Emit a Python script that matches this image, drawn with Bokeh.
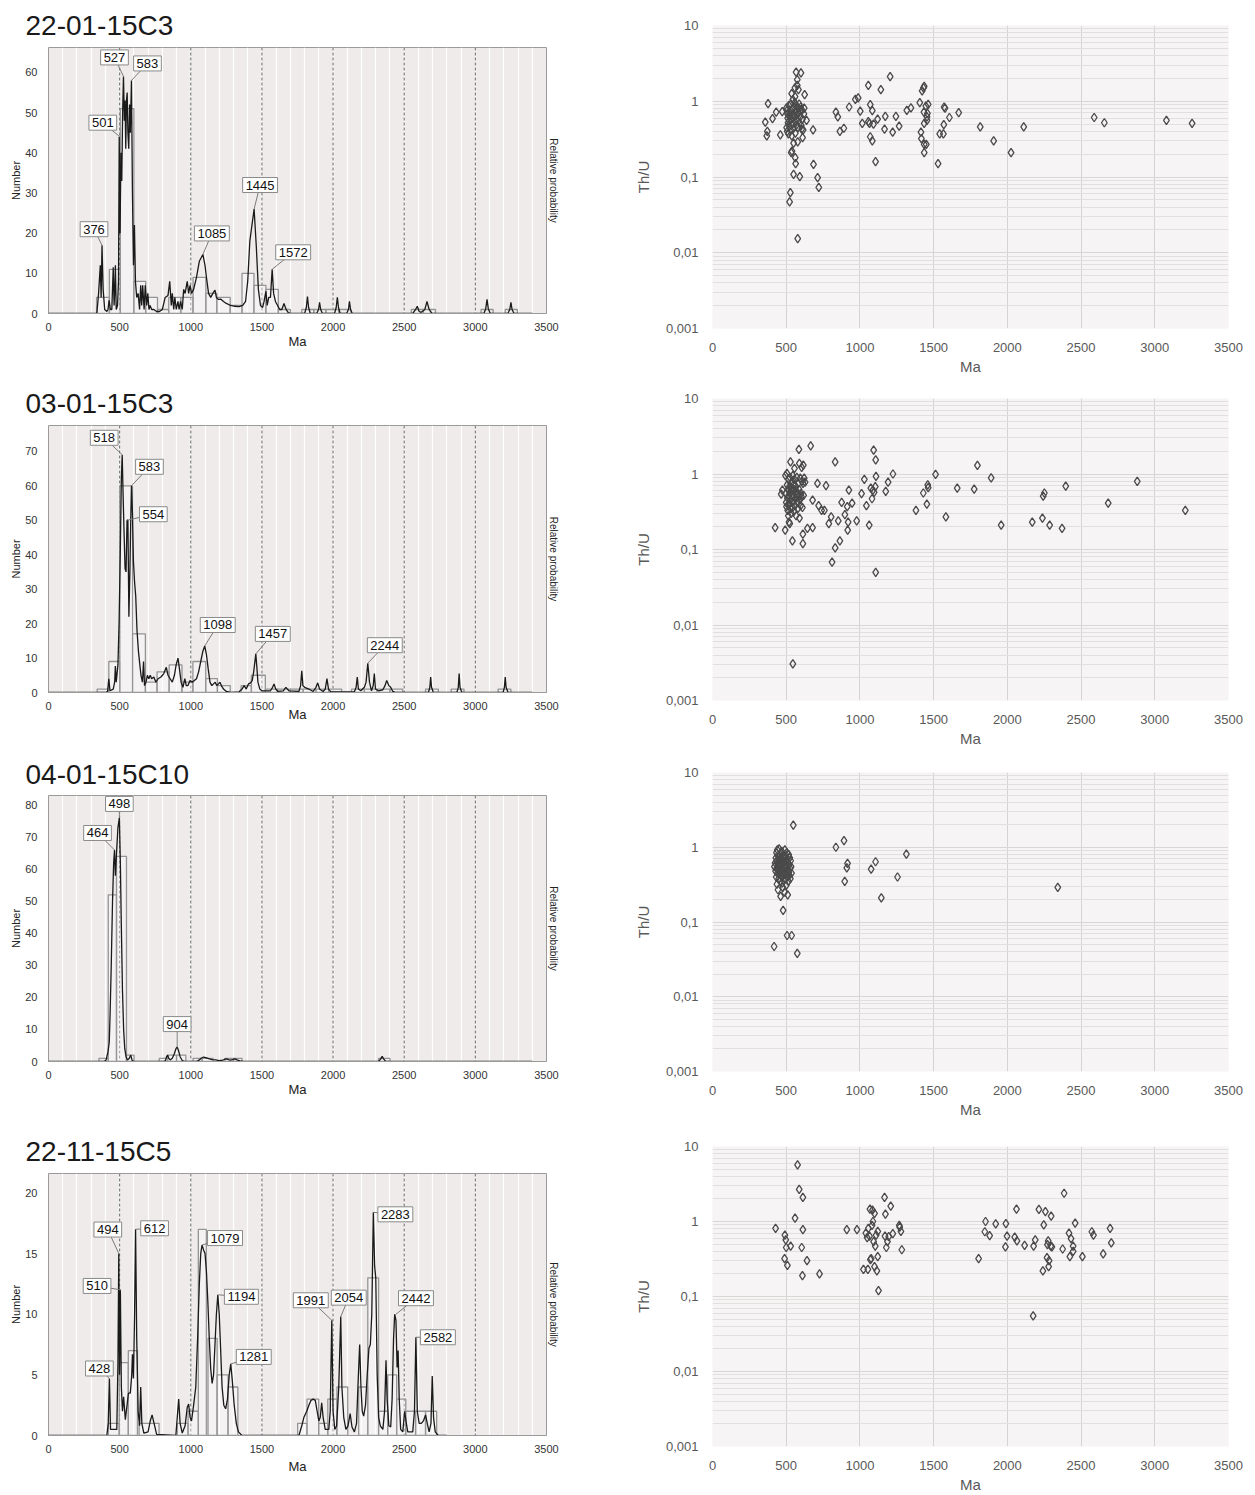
from bokeh.plotting import figure
from bokeh.models import (Range1d, FixedTicker, LinearAxis, Span, Label,
                          CustomJSTickFormatter)
from bokeh.layouts import row, column
from bokeh.embed import file_html
from bokeh.resources import INLINE

FONT = "Liberation Sans"

# ------------------------------------------------------------------ DATA
sample_names = ["22-01-15C3", "03-01-15C3", "04-01-15C10", "22-11-15C5"]

# probability-density curves, (age Ma, value on Number scale)
s1_curve = [(0,0),(340,0),(352,5),(364,12),(370,4),(376,17),(384,6),(395,1),(410,0.5),(418,1),(426,3.3),(435,1),(445,1),
            (455,11.5),(461,2),(466,6),(470,12),(476,1),(485,2),(492,8),(497,44),(503,20),(509,40),(515,33),(521,50),
            (527,59),(533,48),(538,53),(543,41),(548,53),(553,55),(558,45),(564,41),(570,52),(575,45),(583,58),(590,30),
            (597,12),(604,22),(611,8),(620,4),(630,5),(640,1),(648,7),(655,2),(662,7),(672,1),(680,7),(690,2),(698,5),
            (706,1),(714,2),(725,1),(740,1),(760,0.5),(780,0.5),(800,1),(820,4),(840,4.5),(852,8),(863,2),(870,5),(880,1),
            (888,4),(898,1),(910,3),(918,1),(928,3),(940,1),(950,6),(960,5),(975,8),(985,5),(995,7),(1005,5),(1020,6),
            (1040,9),(1060,13),(1085,14.7),(1100,12),(1110,9),(1125,5),(1140,4),(1155,5),(1170,5.8),(1180,4),(1195,3.5),
            (1210,3.6),(1230,3),(1250,2.5),(1280,2),(1310,1.8),(1340,1.7),(1365,2),(1385,3),(1400,8),(1415,18),(1445,26),
            (1460,17),(1475,6),(1490,2),(1505,1.5),(1515,3),(1528,5.5),(1537,2),(1548,4),(1560,4),(1572,11),(1582,5),
            (1595,3),(1610,2),(1625,1),(1640,1),(1655,2.5),(1670,1),(1685,0.2),(1700,0),(1800,0),(1812,1.5),(1820,4.2),
            (1828,1.5),(1840,0),(1885,0),(1898,1),(1905,2.8),(1913,1),(1925,0),(2010,0),(2022,1.5),(2030,4),(2038,1.5),
            (2050,0),(2095,0),(2108,1),(2115,3),(2123,1),(2135,0),(2560,0),(2580,1),(2592,1.8),(2605,0.5),(2620,0.3),
            (2645,1),(2660,3),(2675,1),(2695,0),(3060,0),(3073,1.2),(3082,3.5),(3091,1.2),(3105,0),(3228,0),(3242,1),
            (3250,2.8),(3258,1),(3272,0),(3400,0)]
s2_curve = [(0,0),(400,0),(415,0.3),(424,4),(432,0.5),(455,1),(465,3),(470,7.7),(476,3),(488,8),(496,20),(505,42),
            (512,62),(518,69),(524,58),(530,48),(538,36),(545,35),(552,50),(558,50),(565,22),(572,35),(578,50),(583,60),
            (590,52),(597,38),(605,32),(613,28),(622,18),(632,12),(642,8),(650,5),(660,3),(668,9),(675,2),(685,3),
            (695,5),(705,4),(715,5),(725,4),(740,4.5),(755,3),(770,4),(790,4.5),(810,5.5),(828,7.3),(840,5),(855,4),
            (870,3),(885,5),(897,8),(910,10),(920,7),(932,3),(945,1.5),(958,4),(968,2),(980,2),(995,3.5),(1010,3),
            (1025,3.5),(1040,4),(1055,6),(1070,9),(1085,12),(1098,13.5),(1110,11),(1122,7),(1135,3),(1148,2),(1160,2.5),
            (1172,3),(1182,2),(1195,2.5),(1205,3),(1215,2),(1230,1),(1250,0.3),(1280,0),(1340,0.2),(1360,1),(1375,2),
            (1390,1),(1405,2.5),(1420,2.8),(1432,3.5),(1442,6),(1457,11.2),(1465,7),(1472,3),(1485,1),(1500,0.5),
            (1560,0.5),(1575,1.5),(1585,2.5),(1597,1),(1612,0.3),(1650,0.5),(1668,1.5),(1690,0.5),(1760,0.3),(1772,2),
            (1780,6.3),(1788,2),(1800,1.5),(1830,1),(1860,0.3),(1880,1.5),(1892,2.8),(1905,1),(1930,0.3),(1945,1),
            (1957,4),(1968,1),(1985,0.2),(2150,0.2),(2162,1.5),(2170,4.5),(2178,1),(2195,0.5),(2220,1.5),(2232,3),
            (2244,8.5),(2256,3),(2270,0.5),(2282,2),(2290,5.5),(2298,1),(2320,0.5),(2350,0.8),(2365,2),(2377,3.5),
            (2392,2),(2405,1.5),(2420,0.3),(2440,0),(2670,0),(2680,1.5),(2686,4.5),(2692,1.5),(2705,0),(2870,0),
            (2880,1.5),(2886,5.5),(2892,1.5),(2905,0),(3195,0),(3204,1.5),(3210,4.5),(3216,1.5),(3230,0),(3400,0)]
s3_curve = [(0,0),(390,0),(405,0.5),(418,3),(427,6),(433,15),(440,28),(450,50),(458,62),(464,66),(470,58),(478,65),
            (488,73),(498,76),(505,62),(512,42),(520,22),(528,10),(536,4),(545,1.5),(555,0.5),(568,1),(578,2),(588,0.3),
            (600,0),(810,0),(822,0.3),(830,1.5),(837,2),(845,1),(855,0.5),(870,1),(885,2.5),(896,4),(904,4.5),(913,3.5),
            (925,1.5),(940,0.3),(960,0),(1040,0),(1060,0.5),(1075,1.1),(1090,1.4),(1105,1.2),(1125,0.9),(1150,0.6),
            (1175,0.5),(1200,0.3),(1225,0.4),(1245,0.8),(1260,0.7),(1275,0.4),(1295,0.6),(1310,0.8),(1325,0.5),
            (1345,0.2),(1370,0),(2320,0),(2335,0.8),(2345,1.6),(2355,0.8),(2370,0),(3400,0)]
s4_curve = [(0,0),(410,0),(420,1),(428,4.7),(436,0.5),(480,0.5),(488,6),(494,15),(499,5),(505,12),(512,4),(520,2),
            (528,3.2),(540,1.3),(552,2.5),(562,3.5),(575,3.5),(585,5),(590,6.7),(597,4.7),(605,10),(612,17),(620,8),
            (630,2),(640,0.8),(648,4),(656,1),(670,0.2),(700,0.3),(715,1.2),(728,1.7),(742,1),(760,0.1),(895,0),
            (905,1.5),(915,3),(925,1),(940,0.2),(960,0.8),(975,2.3),(985,2.6),(995,1.5),(1005,1.2),(1020,2.5),(1035,4),
            (1048,8),(1060,12.5),(1070,15),(1079,15.7),(1090,15.3),(1100,15),(1110,13.5),(1120,11),(1130,8),(1140,5.5),
            (1150,4.3),(1160,5),(1170,7.5),(1180,10),(1190,11.6),(1200,10),(1210,7),(1220,4),(1232,2.5),(1245,2.2),
            (1258,3),(1270,5),(1281,5.9),(1292,4.5),(1305,2.5),(1320,1),(1335,0.3),(1360,0),(1760,0),(1780,0.8),
            (1795,1.5),(1815,2),(1830,2.5),(1845,2.9),(1860,3),(1875,2.9),(1888,2),(1900,1.2),(1910,1.5),(1920,2.7),
            (1930,1.5),(1945,0.5),(1970,0.5),(1980,2),(1991,9.5),(2000,2),(2012,0.5),(2025,0.8),(2040,4),(2054,9.8),
            (2062,4),(2075,1.5),(2090,0.5),(2105,0.8),(2120,1.8),(2133,0.7),(2150,0.3),(2165,1),(2178,5),(2187,7.5),
            (2196,4),(2205,2),(2215,1.6),(2228,2.5),(2240,5),(2252,7.2),(2262,7.5),(2272,10),(2283,18.4),(2292,14),
            (2300,13),(2310,5),(2320,1.5),(2332,0.8),(2350,0.5),(2362,2),(2372,6.2),(2380,3),(2392,0.8),(2405,0.7),
            (2415,3),(2425,8),(2433,10),(2442,9.5),(2450,5.6),(2457,7),(2465,3),(2475,0.5),(2490,0.3),(2503,2),
            (2515,1),(2525,0.3),(2560,0.3),(2572,2),(2582,8.1),(2592,2),(2605,1),(2620,1),(2635,1.2),(2650,1.7),
            (2662,1),(2675,0.3),(2688,1),(2697,4.9),(2706,1.5),(2718,0.3),(2740,0),(2800,0)]

# histogram bins: (left Ma, right Ma, count)
s1_hist = [(338,428,4),(428,505,11),(505,600,51),(600,683,8),(683,766,4),(766,845,1),(845,930,4),(930,1016,4),
           (1016,1106,9),(1106,1183,5),(1183,1277,4),(1277,1360,2),(1360,1444,10),(1444,1528,7),(1528,1615,6),
           (1615,1700,1),(1780,1865,1),(1865,1950,1),(1950,2040,1),(2040,2125,1),(2550,2635,1),(2635,2720,1),
           (3040,3125,1),(3210,3295,1)]
s2_hist = [(342,424,1),(424,501,9),(501,591,60),(591,681,17),(681,763,3),(763,848,6),(848,938,8),(938,1015,3),
           (1015,1105,9),(1105,1187,4),(1187,1277,2),(1354,1426,2),(1426,1524,5),(1524,1610,1),(1610,1700,1),
           (1700,1790,1),(1790,1880,1),(1880,1970,1),(1970,2060,1),(2130,2220,1),(2220,2310,1),(2310,2400,1),
           (2400,2490,1),(2650,2740,1),(2830,2920,1),(3160,3250,1)]
s3_hist = [(355,420,1),(420,478,52),(478,548,64),(548,601,2),(778,837,1),(837,900,2),(900,965,2),(1016,1080,1),
           (1080,1157,1),(1240,1300,1),(1300,1360,1),(2320,2400,1)]
s4_hist = [(421,497,1),(497,561,6),(561,625,7),(637,777,1),(905,981,1),(981,1053,2),(1053,1109,17),(1121,1185,8),
           (1185,1262,5),(1262,1331,4),(1751,1817,1),(1817,1899,3),(1899,1963,1),(1963,2027,3),(2027,2103,4),
           (2180,2244,4),(2244,2320,13),(2320,2384,2),(2384,2447,5),(2447,2511,3),(2511,2580,2),(2580,2650,2),
           (2650,2728,2)]

# labelled peaks: age (Ma) and curve height
s1_peak_age = [376, 501, 527, 583, 1085, 1445, 1572]
s1_peak_height = [17, 44, 59, 58, 14.7, 26, 11]
s2_peak_age = [518, 583, 554, 1098, 1457, 2244]
s2_peak_height = [69, 60, 50, 13.5, 11.2, 8.5]
s3_peak_age = [464, 498, 904]
s3_peak_height = [66, 76, 4.5]
s4_peak_age = [428, 494, 510, 612, 1079, 1194, 1281, 1991, 2054, 2283, 2442, 2582]
s4_peak_height = [4.7, 15, 12, 17, 15.7, 11.6, 5.9, 9.5, 9.8, 18.4, 10, 8.1]

# Th/U versus age (Ma)
s1_zircons = [(358,0.53),(377,0.93),(372,0.40),(368,0.35),(407,0.59),(432,0.72),(460,0.36),(473,0.73),
    (567,2.43),(600,2.37),(575,1.93),(575,1.62),(583,1.42),(559,1.50),(537,1.26),(625,1.22),(528,0.062),(523,0.047),
    (550,0.108),(592,0.101),(578,0.0154),(561,0.18),(564,0.15),(539,0.22),(534,0.21),(550,0.28),(578,0.29),(611,0.33),
    (605,0.43),(638,0.56),(682,0.42),(685,0.147),(713,0.098),(721,0.073),(622,0.81),(603,0.78),
    (502,0.82),(505,0.75),(508,0.68),(510,0.60),(512,0.52),(503,0.45),(507,0.40),(515,0.37),(518,0.88),(520,0.55),
    (522,0.47),(525,0.72),(528,0.64),(530,0.42),(532,0.92),(535,0.58),(538,0.35),(540,0.78),(542,0.50),(545,1.05),
    (548,0.68),(550,0.44),(552,0.85),(555,0.62),(558,0.96),(560,0.54),(562,0.38),(565,0.74),(568,0.48),(570,0.88),
    (572,0.66),(575,0.57),(578,0.80),(580,0.45),(585,0.70),(588,0.92),(590,0.52),(595,0.62),(598,0.84),(602,0.48),
    (606,0.75),(610,0.58),(615,0.42),(620,0.68),(560,1.15),
    (837,0.72),(850,0.62),(864,0.40),(891,0.44),(927,0.84),(969,1.06),(988,1.11),(1002,0.74),(1016,0.51),
    (1057,1.62),(1057,0.54),(1065,0.51),(1070,0.90),(1070,0.34),(1084,0.75),(1084,0.30),(1092,0.50),(1106,0.16),
    (1120,0.58),(1142,1.42),(1167,0.43),(1172,0.63),(1205,2.12),(1222,0.39),(1244,0.63),(1266,0.47),(1318,0.76),
    (1346,0.82),(1406,0.96),(1414,0.39),(1417,0.32),(1422,1.37),(1431,1.50),(1436,1.57),(1434,0.72),(1436,0.51),
    (1436,0.27),(1436,0.21),(1447,0.86),(1455,0.62),(1455,0.56),(1458,0.69),(1463,0.91),(1450,0.27),(1530,0.15),
    (1541,0.37),(1566,0.37),(1569,0.49),(1571,0.84),(1577,0.81),(1607,0.61),(1670,0.71),(1816,0.46),(1907,0.30),
    (2025,0.21),(2111,0.46),(2589,0.61),(2658,0.52),(3079,0.56),(3253,0.51)]
s2_zircons = [(425,0.195),(474,0.61),(466,0.54),(493,0.18),(542,0.13),(545,0.00305),(529,1.45),(556,1.19),
    (586,2.12),(589,1.38),(616,1.31),(605,1.22),(666,2.35),(613,0.16),(613,0.12),(644,0.19),(679,0.195),(679,0.45),
    (712,0.75),(720,0.38),(740,0.33),(759,0.33),(770,0.70),(789,0.22),(805,0.27),(811,0.068),(832,1.45),(832,0.105),
    (853,0.24),(864,0.13),(876,0.42),(898,0.29),(914,0.37),(917,0.18),(920,0.23),(925,0.61),(947,0.41),(978,0.24),
    (1011,0.55),(1030,0.85),(1044,0.38),(1063,0.21),(1074,0.65),(1082,0.47),(1093,2.07),(1088,0.61),(1096,0.57),
    (1104,0.68),(1107,1.54),(1109,0.93),(1107,0.0497),(1175,0.59),(1191,0.78),(1224,1.0),(1380,0.33),(1430,0.56),
    (1454,0.40),(1460,0.72),(1463,0.66),(1513,0.99),(1583,0.27),(1660,0.65),(1775,0.63),(1797,1.30),(1890,0.89),
    (1958,0.21),(2169,0.23),(2238,0.26),(2243,0.51),(2251,0.56),(2287,0.21),(2371,0.19),(2396,0.69),(2684,0.41),
    (2881,0.80),(3207,0.33),
    (495,0.95),(498,0.55),(500,0.42),(502,0.37),(505,1.02),(506,0.72),(508,0.48),(510,0.33),(512,0.62),(514,0.28),
    (515,0.85),(517,0.52),(519,0.23),(520,0.40),(522,0.68),(524,0.22),(525,0.90),(527,0.58),(529,0.35),(530,0.46),
    (532,0.75),(534,0.30),(535,0.65),(537,0.52),(539,0.42),(540,0.80),(542,0.60),(544,0.36),(545,0.95),(547,0.50),
    (549,0.72),(550,0.44),(552,0.32),(554,0.62),(556,0.85),(558,0.55),(560,0.38),(562,0.70),(565,0.48),(567,0.28),
    (570,0.60),(572,0.90),(575,0.42),(577,0.55),(580,0.35),(582,0.75),(585,0.50),(588,0.62),(590,0.26),(592,0.45),
    (595,0.88),(598,0.38),(600,0.55),(603,0.50),(606,0.80),(610,0.36),(614,0.75),(618,0.52),(622,0.88),(628,0.78)]
s3_zircons = [(418,0.047),(479,0.143),(506,0.066),(537,0.066),(575,0.038),(548,1.98),(837,1.0),(892,1.23),
    (916,0.61),(911,0.53),(897,0.35),(1076,0.51),(1106,0.64),(1145,0.21),(1255,0.40),(1315,0.81),(2342,0.29),
    (420,0.55),(425,0.62),(428,0.48),(430,0.72),(432,0.40),(434,0.85),(435,0.52),(437,0.32),(438,0.66),(440,0.92),
    (441,0.45),(443,0.58),(444,0.27),(446,0.75),(447,0.50),(449,0.38),(450,0.62),(452,0.95),(453,0.44),(455,0.68),
    (456,0.55),(458,0.35),(459,0.80),(461,0.48),(462,0.22),(464,0.60),(465,0.72),(467,0.41),(468,0.52),(470,0.88),
    (471,0.33),(473,0.65),(474,0.46),(476,0.58),(477,0.29),(479,0.78),(480,0.50),(482,0.42),(483,0.62),(485,0.36),
    (486,0.70),(488,0.54),(489,0.25),(491,0.92),(492,0.45),(494,0.60),(495,0.38),(497,0.76),(498,0.52),(500,0.31),
    (501,0.66),(503,0.44),(504,0.85),(506,0.56),(507,0.40),(509,0.70),(510,0.23),(512,0.50),(513,0.62),(515,0.35),
    (517,0.80),(518,0.46),(520,0.58),(522,0.42),(524,0.72),(526,0.52),(528,0.38),(530,0.66),(533,0.55),(536,0.45)]
s4_zircons = [(428,0.81),(491,0.66),(497,0.57),(500,0.45),(530,0.47),(489,0.32),(508,0.26),(577,5.68),(588,2.68),
    (613,2.1),(560,1.11),(613,0.78),(605,0.45),(610,0.19),(641,0.30),(726,0.20),(911,0.78),(980,0.78),(1024,0.23),
    (1054,0.23),(1040,0.70),(1049,0.61),(1057,0.81),(1068,1.46),(1085,1.42),(1099,1.28),(1082,0.89),(1088,1.0),
    (1065,0.64),(1076,0.32),(1071,0.31),(1093,0.54),(1104,0.47),(1110,0.66),(1121,0.74),(1099,0.25),(1115,0.22),
    (1121,0.34),(1126,0.12),(1167,2.1),(1173,1.25),(1209,1.6),(1170,0.64),(1179,0.45),(1187,0.54),(1195,0.63),
    (1223,0.69),(1267,0.89),(1270,0.84),(1278,0.74),(1284,0.42),(1805,0.32),(1852,1.0),(1847,0.73),(1880,0.65),
    (1921,0.93),(1990,0.94),(1998,0.64),(1987,0.46),(2050,0.62),(2062,1.46),(2065,0.55),(2117,0.48),(2178,0.47),
    (2189,0.57),(2175,0.0553),(2214,1.45),(2241,0.22),(2247,0.90),(2258,1.35),(2269,0.33),(2277,0.55),(2272,0.49),
    (2280,0.25),(2283,0.30),(2297,1.18),(2294,0.47),(2302,0.46),(2385,2.38),(2375,0.43),(2418,0.70),(2432,0.59),
    (2424,0.34),(2446,0.47),(2446,0.40),(2460,0.95),(2509,0.34),(2573,0.73),(2584,0.66),(2650,0.37),(2697,0.81),
    (2705,0.52)]

number_ticks = [[0, 10, 20, 30, 40, 50, 60], [0, 10, 20, 30, 40, 50, 60, 70],
                [0, 10, 20, 30, 40, 50, 60, 70, 80], [0, 5, 10, 15, 20]]
number_max = [66.2, 77.5, 83.0, 21.6]
age_ticks = [0, 500, 1000, 1500, 2000, 2500, 3000, 3500]
thu_ticks = [0.001, 0.01, 0.1, 1, 10]

# ------------------------------------------------------------------ LAYOUT / STYLE
# per row: height, left top/bottom border, right top/bottom border, "Ma" standoff
row_style = [
    dict(h=378, lt=47, lb=65, rt=25, rb=50, ma=0),
    dict(h=372, lt=47, lb=58, rt=20, rb=50, ma=-6),
    dict(h=370, lt=45, lb=59, rt=22, rb=45, ma=0),
    dict(h=375, lt=53, lb=60, rt=26, rb=46, ma=3),
]
title_standoff = [14, 14, 12, 14]
# label box offsets (pixels) from the peak point
label_offsets = [
    [(-8, 16), (-17, 14), (-9, 19), (16, 17), (9, 21), (6, 24), (21, 17)],
    [(-18, 17), (18, 19), (26, 6), (13, 21), (17, 20), (17, 18)],
    [(-17, 17), (0, 14), (0, 23)],
    [(-10, 10), (-11, 24), (-24, 4), (19, 1), (23, 7), (23, -2), (23, 7), (-21, 20), (8, 19), (22, -2), (20, 16), (22, 0)],
]

LW, LBL, LBR = 600, 48, 54
RW, RBL, RBR = 655, 112, 27


def make_left(i, curve, hist, peak_age, peak_h):
    st = row_style[i]
    ymax = number_max[i]
    p = figure(width=LW, height=st["h"], x_range=Range1d(0, 3500), y_range=Range1d(0, ymax),
               output_backend="svg", toolbar_location=None, title=sample_names[i],
               min_border_left=LBL, min_border_right=LBR, min_border_top=st["lt"], min_border_bottom=st["lb"])
    p.title.text_font = FONT
    p.title.text_font_size = "28px"
    p.title.text_font_style = "normal"
    p.title.text_color = "#1a1a1a"
    p.title.offset = -23
    p.title.standoff = title_standoff[i]
    p.background_fill_color = "#efebeb"
    p.border_fill_color = "white"
    p.outline_line_color = "#9a9a9a"
    p.xgrid.ticker = FixedTicker(ticks=list(range(0, 3501, 100)))
    p.xgrid.grid_line_color = "white"
    p.xgrid.grid_line_width = 1.2
    p.ygrid.grid_line_color = None
    for loc in age_ticks[1:-1]:
        p.add_layout(Span(location=loc, dimension="height", line_color="#6a6a6a",
                          line_dash="3 2", line_width=1, level="underlay"))

    hl = [b[0] for b in hist]
    hr = [b[1] for b in hist]
    hc = [b[2] for b in hist]
    p.quad(left=hl, right=hr, bottom=0, top=hc, fill_color="white", fill_alpha=0.35,
           line_color="#959595", line_width=1.3)
    cx = [c[0] for c in curve]
    cy = [c[1] for c in curve]
    p.line(cx, cy, line_color="#1a1a1a", line_width=1.3)

    fw = LW - LBL - LBR
    fh = st["h"] - st["lt"] - st["lb"]
    offs = label_offsets[i]
    x1 = [a + o[0] * 3500 / fw for a, o in zip(peak_age, offs)]
    y1 = [h + o[1] * ymax / fh for h, o in zip(peak_h, offs)]
    p.segment(peak_age, peak_h, x1, y1, line_color="#7a7a7a", line_width=1)
    for a, h, o in zip(peak_age, peak_h, offs):
        p.add_layout(Label(x=a, y=h, x_offset=o[0], y_offset=o[1], text=str(a),
                           text_align="center", text_baseline="middle", text_font=FONT,
                           text_font_size="13px", text_color="#111111",
                           background_fill_color="white", border_line_color="#8a8a8a",
                           border_line_width=1, padding=3))

    xa = p.xaxis[0]
    xa.ticker = FixedTicker(ticks=age_ticks)
    xa.axis_label = "Ma"
    xa.axis_label_text_font = FONT
    xa.axis_label_text_font_size = "13px"
    xa.axis_label_text_font_style = "normal"
    xa.axis_label_text_color = "#222222"
    xa.axis_label_standoff = st["ma"]
    xa.major_label_text_font = FONT
    xa.major_label_text_font_size = "11px"
    xa.major_label_text_color = "#333333"
    xa.major_label_standoff = 3
    xa.axis_line_color = "#9a9a9a"
    xa.major_tick_line_color = None
    xa.minor_tick_line_color = None

    ya = p.yaxis[0]
    ya.ticker = FixedTicker(ticks=number_ticks[i])
    ya.axis_label = "Number"
    ya.axis_label_text_font = FONT
    ya.axis_label_text_font_size = "11px"
    ya.axis_label_text_font_style = "normal"
    ya.axis_label_text_color = "#222222"
    ya.axis_label_standoff = 0
    ya.major_label_text_font = FONT
    ya.major_label_text_font_size = "11px"
    ya.major_label_text_color = "#333333"
    ya.major_label_standoff = 5
    ya.axis_line_color = None
    ya.major_tick_line_color = None
    ya.minor_tick_line_color = None

    ra = LinearAxis(ticker=FixedTicker(ticks=[]), axis_label="Relative probability",
                    axis_line_color=None, major_tick_line_color=None, minor_tick_line_color=None,
                    axis_label_standoff=1, axis_label_text_font=FONT, axis_label_text_font_size="10px",
                    axis_label_text_font_style="normal", axis_label_text_color="#222222")
    p.add_layout(ra, "right")
    return p


def make_right(i, zircons):
    st = row_style[i]
    p = figure(width=RW, height=st["h"], x_range=Range1d(0, 3500), y_range=Range1d(0.001, 10),
               y_axis_type="log", output_backend="svg", toolbar_location=None,
               min_border_left=RBL, min_border_right=RBR, min_border_top=st["rt"], min_border_bottom=st["rb"])
    p.background_fill_color = "#f6f4f4"
    p.border_fill_color = "white"
    p.outline_line_color = None
    xt = FixedTicker(ticks=age_ticks)
    minor = [m * d for d in thu_ticks[:-1] for m in range(2, 10)]
    yt = FixedTicker(ticks=thu_ticks, minor_ticks=minor)
    p.xaxis.ticker = xt
    p.xgrid.ticker = xt
    p.yaxis.ticker = yt
    p.ygrid.ticker = yt
    p.xgrid.grid_line_color = "#d6d3d3"
    p.ygrid.grid_line_color = "#d9d6d6"
    p.ygrid.minor_grid_line_color = "#e2dfdf"
    p.yaxis.formatter = CustomJSTickFormatter(
        code="return tick >= 1 ? tick.toFixed(0) : tick.toString().replace('.', ',');")

    ages = [z[0] for z in zircons]
    thu = [z[1] for z in zircons]
    p.scatter(ages, thu, marker="diamond", size=8.5, fill_color=None,
              line_color="#4a4a4a", line_width=1.3)

    for ax, lab in ((p.xaxis[0], "Ma"), (p.yaxis[0], "Th/U")):
        ax.axis_label = lab
        ax.axis_label_text_font = FONT
        ax.axis_label_text_font_size = "15px"
        ax.axis_label_text_font_style = "normal"
        ax.axis_label_text_color = "#595959"
        ax.major_label_text_font = FONT
        ax.major_label_text_font_size = "13px"
        ax.major_label_text_color = "#595959"
        ax.axis_line_color = None
        ax.major_tick_line_color = None
        ax.minor_tick_line_color = None
    p.xaxis[0].major_label_standoff = 8
    p.xaxis[0].axis_label_standoff = 3
    p.yaxis[0].major_label_standoff = 8
    p.yaxis[0].axis_label_standoff = 11
    return p


curves = [s1_curve, s2_curve, s3_curve, s4_curve]
hists = [s1_hist, s2_hist, s3_hist, s4_hist]
peak_ages = [s1_peak_age, s2_peak_age, s3_peak_age, s4_peak_age]
peak_heights = [s1_peak_height, s2_peak_height, s3_peak_height, s4_peak_height]
zircon_sets = [s1_zircons, s2_zircons, s3_zircons, s4_zircons]

lefts = [make_left(i, curves[i], hists[i], peak_ages[i], peak_heights[i]) for i in range(4)]
rights = [make_right(i, zircon_sets[i]) for i in range(4)]

layout = row(column(*lefts), column(*rights))
open("out.html", "w").write(file_html(layout, INLINE))
